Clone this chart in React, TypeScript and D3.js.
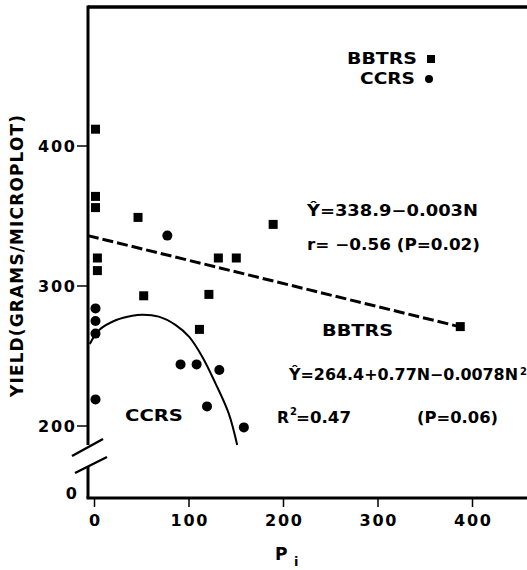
import React, { useEffect, useRef } from "react";
import * as d3 from "d3";

// BBTRS plots (squares)
const bbtrsN = [0, 0, 0, 2, 2, 45, 51, 110, 120, 130, 149, 188, 386];
const bbtrsYield = [412, 364, 356, 320, 311, 349, 293, 269, 294, 320, 320, 344, 271];

// CCRS plots (circles)
const ccrsN = [0, 0, 0, 0, 76, 90, 107, 118, 131, 157];
const ccrsYield = [284, 275, 266, 219, 336, 244, 244, 214, 240, 199];

// fitted lines
const bbtrsFitN = [-7, 386];
const bbtrsFitYield = [336, 271];
const ccrsFitN = [-5, 5, 23, 40, 51, 68, 86, 100, 114, 128, 142, 151];
const ccrsFitYield = [258.6, 268.6, 275.7, 278.8, 279.5, 278.1, 272.1, 263.8, 249.5, 230.5, 209, 186.4];

const xTicks = [0, 100, 200, 300, 400];
const yTicks = [200, 300, 400];

const App = () => {
    const svgRef = useRef<SVGSVGElement>(null);

    useEffect(() => {
        const width = 527;
        const height = 570;
        const left = 88;
        const top = 7;
        const axisY = 498;
        const font = "'DejaVu Sans', sans-serif";

        const svg = d3.select(svgRef.current)
            .attr("width", width)
            .attr("height", height);
        svg.selectAll("*").remove();

        const xScale = d3.scaleLinear().domain([0, 400]).range([94.5, 472.5]);
        const yScale = d3.scaleLinear().domain([200, 400]).range([426, 146]);
        const breakTop = yScale(186.5);

        // frame: top line, broken left axis, bottom axis
        svg.append("line")
            .attr("x1", left).attr("x2", width)
            .attr("y1", top).attr("y2", top)
            .attr("stroke", "black").attr("stroke-width", 3.5);
        svg.append("line")
            .attr("x1", left).attr("x2", left)
            .attr("y1", top - 1.5).attr("y2", breakTop)
            .attr("stroke", "black").attr("stroke-width", 3);
        svg.append("line")
            .attr("x1", left).attr("x2", left)
            .attr("y1", 467).attr("y2", axisY)
            .attr("stroke", "black").attr("stroke-width", 3);
        svg.append("line")
            .attr("x1", left - 1.5).attr("x2", width)
            .attr("y1", axisY).attr("y2", axisY)
            .attr("stroke", "black").attr("stroke-width", 3);

        // break marks
        [[72, 456, 103, 439], [75, 473, 107, 457]].forEach(([x1, y1, x2, y2]) => {
            svg.append("line")
                .attr("x1", x1).attr("y1", y1).attr("x2", x2).attr("y2", y2)
                .attr("stroke", "black").attr("stroke-width", 2.5);
        });

        // y ticks
        const yAxis = svg.append("g");
        yAxis.selectAll("line").data(yTicks).join("line")
            .attr("x1", 77).attr("x2", left)
            .attr("y1", d => yScale(d)).attr("y2", d => yScale(d))
            .attr("stroke", "black").attr("stroke-width", 1.5);
        yAxis.selectAll("text").data(yTicks).join("text")
            .attr("x", 75).attr("y", d => yScale(d))
            .attr("dy", "0.36em")
            .attr("text-anchor", "end")
            .attr("textLength", 37)
            .attr("font-family", font).attr("font-weight", "bold").attr("font-size", 16)
            .text(d => d);
        svg.append("text")
            .attr("x", 77).attr("y", 493).attr("dy", "0.36em")
            .attr("text-anchor", "end")
            .attr("font-family", font).attr("font-weight", "bold").attr("font-size", 16)
            .text("0");

        // x ticks
        const xAxis = svg.append("g");
        xAxis.selectAll("line").data(xTicks).join("line")
            .attr("x1", d => xScale(d)).attr("x2", d => xScale(d))
            .attr("y1", axisY).attr("y2", 507)
            .attr("stroke", "black").attr("stroke-width", 1.5);
        xAxis.selectAll("text").data(xTicks).join("text")
            .attr("x", d => xScale(d)).attr("y", 526)
            .attr("text-anchor", "middle")
            .attr("textLength", d => (d === 0 ? null : 37))
            .attr("font-family", font).attr("font-weight", "bold").attr("font-size", 16)
            .text(d => d);

        // axis titles
        svg.append("text")
            .attr("transform", "translate(22.5, 256) rotate(-90)")
            .attr("text-anchor", "middle")
            .attr("textLength", 282)
            .attr("font-family", font).attr("font-weight", "bold").attr("font-size", 17)
            .text("YIELD(GRAMS/MICROPLOT)");
        svg.append("text")
            .attr("x", 275).attr("y", 560)
            .attr("font-family", font).attr("font-weight", "bold").attr("font-size", 17)
            .text("P");
        svg.append("text")
            .attr("x", 294).attr("y", 566)
            .attr("font-family", font).attr("font-weight", "bold").attr("font-size", 13)
            .text("i");

        // fitted lines
        const bbtrsLine = d3.line<number>()
            .x((d, i) => xScale(bbtrsFitN[i]))
            .y(d => yScale(d));
        svg.append("path")
            .datum(bbtrsFitYield)
            .attr("d", bbtrsLine)
            .attr("fill", "none")
            .attr("stroke", "black")
            .attr("stroke-width", 3)
            .attr("stroke-dasharray", "11,4");

        const ccrsLine = d3.line<number>()
            .x((d, i) => xScale(ccrsFitN[i]))
            .y(d => yScale(d))
            .curve(d3.curveCatmullRom);
        svg.append("path")
            .datum(ccrsFitYield)
            .attr("d", ccrsLine)
            .attr("fill", "none")
            .attr("stroke", "black")
            .attr("stroke-width", 2);

        // points
        const side = 9;
        svg.append("g").selectAll("rect").data(bbtrsYield).join("rect")
            .attr("x", (d, i) => xScale(bbtrsN[i]) - side / 2 + 1)
            .attr("y", d => yScale(d) - side / 2)
            .attr("width", side).attr("height", side)
            .attr("fill", "black");
        svg.append("g").selectAll("circle").data(ccrsYield).join("circle")
            .attr("cx", (d, i) => xScale(ccrsN[i]) + 1)
            .attr("cy", d => yScale(d))
            .attr("r", 5)
            .attr("fill", "black");

        // legend
        const label = (x: number, y: number, txt: string, len: number | null, size = 16, anchor = "start") => {
            const t = svg.append("text")
                .attr("x", x).attr("y", y)
                .attr("text-anchor", anchor)
                .attr("font-family", font).attr("font-weight", "bold").attr("font-size", size)
                .text(txt);
            if (len) t.attr("textLength", len).attr("lengthAdjust", "spacingAndGlyphs");
            return t;
        };
        label(417, 64, "BBTRS", 70, 16, "end");
        svg.append("rect").attr("x", 427).attr("y", 55).attr("width", 8).attr("height", 8).attr("fill", "black");
        label(415, 84, "CCRS", 55, 16, "end");
        svg.append("circle").attr("cx", 429).attr("cy", 79).attr("r", 4).attr("fill", "black");

        // annotations
        label(307, 216, "Ŷ=338.9−0.003N", 171, 15);
        label(307, 250, "r= −0.56 (P=0.02)", 173, 15);
        label(322, 336, "BBTRS", 71, 15);
        label(289, 380, "Ŷ=264.4+0.77N−0.0078N", 229, 15);
        label(520, 375, "2", null, 10);
        label(277, 423, "R", 12, 15);
        label(290, 415, "2", null, 10);
        label(296, 423, "=0.47", 55, 15);
        label(417, 423, "(P=0.06)", 81, 15);
        label(125, 421, "CCRS", 58, 15);
    }, []);

    return (
        <svg ref={svgRef} style={{ position: "absolute", left: 0, top: 0, background: "white" }}></svg>
    );
};

export default App;
